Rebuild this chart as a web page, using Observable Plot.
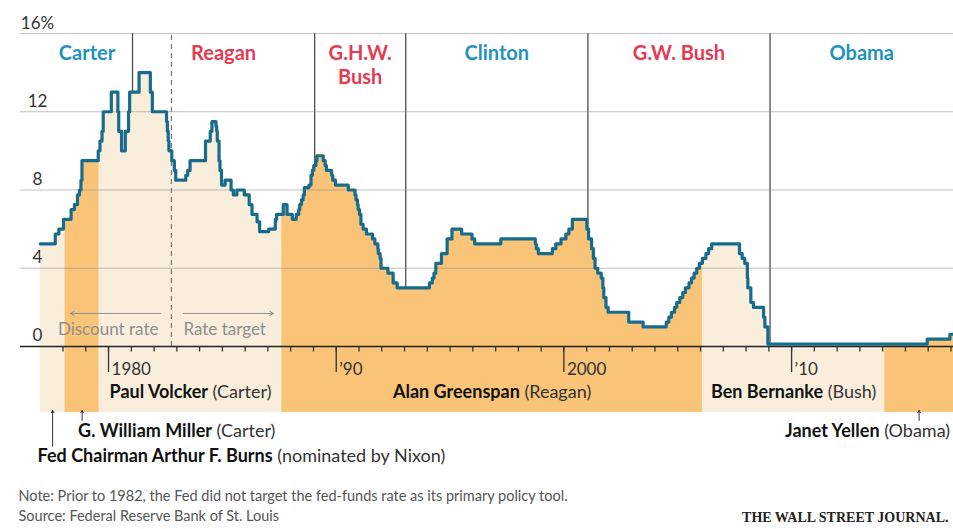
<!DOCTYPE html>
<html>
<head>
<meta charset="utf-8">
<script src="https://cdn.jsdelivr.net/npm/d3@7"></script>
<script src="https://cdn.jsdelivr.net/npm/@observablehq/plot@0.6"></script>
<style>
  html, body { margin: 0; padding: 0; background: #fff; }
  #chart svg { display: block; }
</style>
</head>
<body>
<div id="chart"></div>
<script>
// Policy rate changes: discount rate until late 1982, fed-funds rate target afterwards (percent)
const rateDates = [
  "1977-01-01","1977-08-30","1977-10-26","1978-01-09","1978-05-11","1978-07-03","1978-08-21","1978-09-22",
  "1978-10-16","1978-11-01","1979-07-20","1979-08-17","1979-09-19","1979-10-08","1980-02-15","1980-05-30",
  "1980-06-13","1980-07-28","1980-09-26","1980-11-17","1980-12-05","1981-05-05","1981-11-02","1981-12-04",
  "1982-07-20","1982-08-02","1982-08-16","1982-08-27","1982-10-12","1982-11-22","1982-12-14",
  "1983-05-24","1983-06-24","1983-08-01","1984-04-05","1984-06-20","1984-07-17","1984-09-20","1984-10-02",
  "1984-10-11","1984-11-08","1984-11-23","1984-12-18","1985-02-14","1985-05-20","1985-06-25","1985-08-21",
  "1985-12-18","1986-03-07","1986-04-21","1986-07-11","1986-08-21","1987-01-15","1987-04-30","1987-05-20",
  "1987-09-04","1987-11-04","1988-01-28","1988-03-30","1988-05-09","1988-05-25","1988-06-22","1988-07-19",
  "1988-08-08","1988-10-20","1988-11-22","1988-12-15","1989-01-05","1989-02-09","1989-02-24","1989-06-06",
  "1989-07-07","1989-07-27","1989-10-18","1989-11-06","1989-12-20","1990-07-13","1990-10-29","1990-11-14",
  "1990-12-07","1990-12-19","1991-01-09","1991-02-01","1991-03-08","1991-04-30","1991-08-06","1991-09-13",
  "1991-10-31","1991-11-06","1991-12-06","1991-12-20","1992-04-09","1992-07-02","1992-09-04",
  "1994-02-04","1994-03-22","1994-04-18","1994-05-17","1994-08-16","1994-11-15","1995-02-01","1995-07-06",
  "1995-12-19","1996-01-31","1997-03-25","1998-09-29","1998-10-15","1998-11-17","1999-06-30","1999-08-24",
  "1999-11-16","2000-02-02","2000-03-21","2000-05-16","2001-01-03","2001-01-31","2001-03-20","2001-04-18",
  "2001-05-15","2001-06-27","2001-08-21","2001-09-17","2001-10-02","2001-11-06","2001-12-11","2002-11-06",
  "2003-06-25","2004-06-30","2004-08-10","2004-09-21","2004-11-10","2004-12-14","2005-02-02","2005-03-22",
  "2005-05-03","2005-06-30","2005-08-09","2005-09-20","2005-11-01","2005-12-13","2006-01-31","2006-03-28",
  "2006-05-10","2006-06-29","2007-09-18","2007-10-31","2007-12-11","2008-01-22","2008-01-30","2008-03-18",
  "2008-04-30","2008-10-08","2008-10-29","2008-12-16","2015-12-16","2016-12-14"
];
const rateValues = [
  5.25, 5.75, 6.0, 6.5, 7.0, 7.25, 7.75, 8.0,
  8.5, 9.5, 10.0, 10.5, 11.0, 12.0, 13.0, 12.0,
  11.0, 10.0, 11.0, 12.0, 13.0, 14.0, 13.0, 12.0,
  11.5, 11.0, 10.5, 10.0, 9.5, 9.0, 8.5,
  8.75, 9.0, 9.5, 10.5, 11.0, 11.5, 11.25, 11.0,
  10.5, 9.5, 9.0, 8.25, 8.5, 8.0, 7.75, 8.0,
  7.75, 7.25, 6.75, 6.375, 5.875, 6.0, 6.5, 6.75,
  7.25, 6.75, 6.5, 6.75, 7.0, 7.25, 7.5, 7.75,
  8.125, 8.25, 8.75, 9.0, 9.25, 9.5, 9.75, 9.5,
  9.25, 9.0, 8.75, 8.5, 8.25, 8.0, 7.75, 7.5,
  7.25, 7.0, 6.75, 6.25, 6.0, 5.75, 5.5, 5.25,
  5.0, 4.75, 4.5, 4.0, 3.75, 3.25, 3.0,
  3.25, 3.5, 3.75, 4.25, 4.75, 5.5, 6.0, 5.75,
  5.5, 5.25, 5.5, 5.25, 5.0, 4.75, 5.0, 5.25,
  5.5, 5.75, 6.0, 6.5, 6.0, 5.5, 5.0, 4.5,
  4.0, 3.75, 3.5, 3.0, 2.5, 2.0, 1.75, 1.25,
  1.0, 1.25, 1.5, 1.75, 2.0, 2.25, 2.5, 2.75,
  3.0, 3.25, 3.5, 3.75, 4.0, 4.25, 4.5, 4.75,
  5.0, 5.25, 4.75, 4.5, 4.25, 3.5, 3.0, 2.25,
  2.0, 1.5, 1.0, 0.125, 0.375, 0.625
];
const seriesEnd = "2017-02-10";

// Fed chairmen, the president who nominated them, and when they took office
const chairNames = ["Arthur F. Burns", "G. William Miller", "Paul Volcker", "Alan Greenspan", "Ben Bernanke", "Janet Yellen"];
const chairNominatedBy = ["Nixon", "Carter", "Carter", "Reagan", "Bush", "Obama"];
const chairStarts = ["1977-01-01", "1978-02-01", "1979-08-06", "1987-08-11", "2006-02-01", "2014-02-03"];

// Presidents and inauguration dates
const presidentNames = ["Carter", "Reagan", "G.H.W.\nBush", "Clinton", "G.W. Bush", "Obama"];
const presidentParties = ["D", "R", "R", "D", "R", "D"];
const presidentStarts = ["1977-01-20", "1981-01-20", "1989-01-20", "1993-01-20", "2001-01-20", "2009-01-20"];

const policySwitch = "1982-10-06";
const yTicks = [0, 4, 8, 12, 16];
const yTickLabels = ["0", "4", "8", "12", "16%"];
const decadeYears = [1980, 1990, 2000, 2010];
const decadeLabels = ["1980", "\u201990", "2000", "\u201910"];
const noteText = "Note: Prior to 1982, the Fed did not target the fed-funds rate as its primary policy tool.\nSource: Federal Reserve Bank of St. Louis";
const creditText = "THE WALL STREET JOURNAL.";

// ---- derived tables ----
const day = 864e5;
const shiftYears = (d, yrs) => new Date(+d + yrs * 365.25 * day);
const endDate = new Date(seriesEnd);
const rates = rateDates.map((d, i) => ({date: new Date(d), rate: rateValues[i]}));
rates.push({date: endDate, rate: rateValues[rateValues.length - 1]});
const bisectDate = d3.bisector(d => d.date).right;
const rateAt = t => rates[Math.max(0, bisectDate(rates, t) - 1)].rate;

const chairs = chairNames.map((name, i) => {
  const start = new Date(chairStarts[i]);
  const end = i + 1 < chairStarts.length ? new Date(chairStarts[i + 1]) : endDate;
  const label = i === 0
    ? `Fed Chairman ${name} (nominated by ${chairNominatedBy[i]})`
    : `${name} (${chairNominatedBy[i]})`;
  return {name, label, start, end, mid: new Date((+start + +end) / 2), tone: i % 2 ? "#f9c477" : "#f8eedb"};
});

// Area rows per chairman, with the rate in effect at each boundary
const areaRows = chairs.flatMap(c => [
  {chair: c.name, tone: c.tone, date: c.start, rate: rateAt(c.start)},
  ...rates.filter(r => r.date > c.start && r.date < c.end).map(r => ({chair: c.name, tone: c.tone, date: r.date, rate: r.rate})),
  {chair: c.name, tone: c.tone, date: c.end, rate: rateAt(c.end)}
]);

const presidents = presidentNames.map((name, i) => {
  const start = new Date(presidentStarts[i]);
  const end = i + 1 < presidentStarts.length ? new Date(presidentStarts[i + 1]) : endDate;
  return {name, party: presidentParties[i], start, mid: new Date((+start + +end) / 2)};
});

const yearDates = d3.range(1978, 2018).map(y => new Date(Date.UTC(y, 0, 1)));
const decadeDates = decadeYears.map(y => new Date(Date.UTC(y, 0, 1)));
const switchDate = new Date(policySwitch);

// ---- layout ----
const bandBottom = -3.37;
const chairRows = [-2.61, -4.65, -5.88];
const chairLayout = [
  {row: 2, anchor: "start", dx: -15, pointerTo: -5.1},
  {row: 1, anchor: "start", dx: -4, pointerTo: -3.78},
  {row: 0, anchor: "middle", dx: 0},
  {row: 0, anchor: "middle", dx: 0},
  {row: 0, anchor: "middle", dx: 0},
  {row: 1, anchor: "end", dx: 31, pointerTo: -3.78}
];
const blue = "#1f93bd", red = "#e63a52", lineColor = "#176c8d", muted = "#8e8e8e";

const labelMark = (idx) => Plot.text(idx.map(i => chairs[i]), {
  x: "mid", y: d => chairRows[chairLayout[chairs.indexOf(d)].row],
  text: "label", lineAnchor: "bottom", fill: "#111", fontSize: 18,
  textAnchor: chairLayout[idx[0]].anchor, dx: chairLayout[idx[0]].dx
});

const plot = Plot.plot({
  width: 953,
  height: 529,
  marginTop: 33, marginBottom: 0, marginLeft: 20, marginRight: 0,
  x: {type: "utc", domain: [new Date("1976-02-19"), endDate], axis: null},
  y: {domain: [-9.355, 16], axis: null},
  color: {type: "identity"},
  style: {fontFamily: "Lato, 'Open Sans', sans-serif", fontSize: "17px", background: "#fff", color: "#222"},
  marks: [
    // presidential terms
    Plot.ruleX(presidents.slice(1), {x: "start", y1: 0, y2: 16, stroke: "#4d4d4d", strokeWidth: 1.3}),
    // chairman tenures, shaded under the rate and below the axis
    Plot.areaY(areaRows, {x: "date", y1: bandBottom, y2: "rate", z: "chair", fill: "tone", curve: "step-after"}),
    // grid
    Plot.ruleY(yTicks.slice(1), {stroke: "#8f8f8f", strokeOpacity: 0.55, strokeWidth: 1}),
    Plot.ruleX([switchDate], {y1: 0, y2: 16, stroke: "#7a7a7a", strokeWidth: 1.2, strokeDasharray: "5,4"}),
    Plot.ruleY([0], {stroke: "#222", strokeWidth: 1.6}),
    Plot.ruleX(yearDates, {y1: 0, y2: -0.28, stroke: "#333", strokeWidth: 1.3}),
    Plot.ruleX(decadeDates, {y1: 0, y2: -1.33, stroke: "#333", strokeWidth: 1.3}),
    Plot.text(decadeDates, {x: d => d, y: -1.45, text: (d, i) => decadeLabels[i], textAnchor: "start", dx: 3, lineAnchor: "bottom", fill: "#333"}),
    Plot.text(yTicks, {y: d => d, text: (d, i) => yTickLabels[i], frameAnchor: "left", textAnchor: d => d === 16 ? "start" : "end", dx: 17, dy: -5, lineAnchor: "bottom", fill: "#333"}),
    // president names
    Plot.text(presidents, {x: "mid", y: 15.49, text: "name", fill: d => d.party === "D" ? blue : red, fontWeight: "bold", fontSize: 20, lineAnchor: "top", lineHeight: 1.18}),
    // policy regime labels
    Plot.text(["Discount rate"], {x: () => switchDate, y: 0.61, dx: -13, textAnchor: "end", lineAnchor: "bottom", fill: muted}),
    Plot.text(["Rate target"], {x: () => switchDate, y: 0.61, dx: 12, textAnchor: "start", lineAnchor: "bottom", fill: muted}),
    Plot.arrow([0], {x1: () => shiftYears(switchDate, -0.48), x2: () => shiftYears(switchDate, -4.43), y1: 1.69, y2: 1.69, stroke: muted, strokeWidth: 1, headLength: 6}),
    Plot.arrow([0], {x1: () => shiftYears(switchDate, 0.53), x2: () => shiftYears(switchDate, 4.48), y1: 1.69, y2: 1.69, stroke: muted, strokeWidth: 1, headLength: 6}),
    // the rate
    Plot.line(rates, {x: "date", y: "rate", curve: "step-after", stroke: lineColor, strokeWidth: 3.2}),
    // chairman labels
    labelMark([0]),
    labelMark([1]),
    labelMark([2, 3, 4]),
    labelMark([5]),
    Plot.arrow([0, 1, 5].map(i => ({...chairs[i], to: chairLayout[i].pointerTo})), {x: "mid", y1: d => d.to, y2: -3.27, stroke: "#333", strokeWidth: 1, headLength: 4}),
    // notes and credit
    Plot.text([noteText], {frameAnchor: "bottom-left", dx: -2, dy: -9, textAnchor: "start", lineAnchor: "bottom", lineHeight: 1.38, fontSize: 14.5, fill: "#555"}),
    Plot.text([creditText], {frameAnchor: "bottom-right", dx: -5, dy: -8, textAnchor: "end", lineAnchor: "bottom", fontSize: 14, fontWeight: "bold", fontFamily: "'Liberation Serif', 'DejaVu Serif', serif", fill: "#222"})
  ]
});

// names in bold, nominating president in regular weight
const chairLabelSet = new Set(chairs.map(c => c.label));
d3.select(plot).selectAll("text").filter(function () {
  return chairLabelSet.has(this.textContent);
}).each(function () {
  const t = this.textContent;
  const k = t.indexOf(" (");
  const sel = d3.select(this);
  sel.text(null);
  sel.append("tspan").attr("font-weight", "bold").text(t.slice(0, k));
  sel.append("tspan").attr("fill", "#333").text(t.slice(k));
});

document.getElementById("chart").append(plot);
</script>
</body>
</html>
